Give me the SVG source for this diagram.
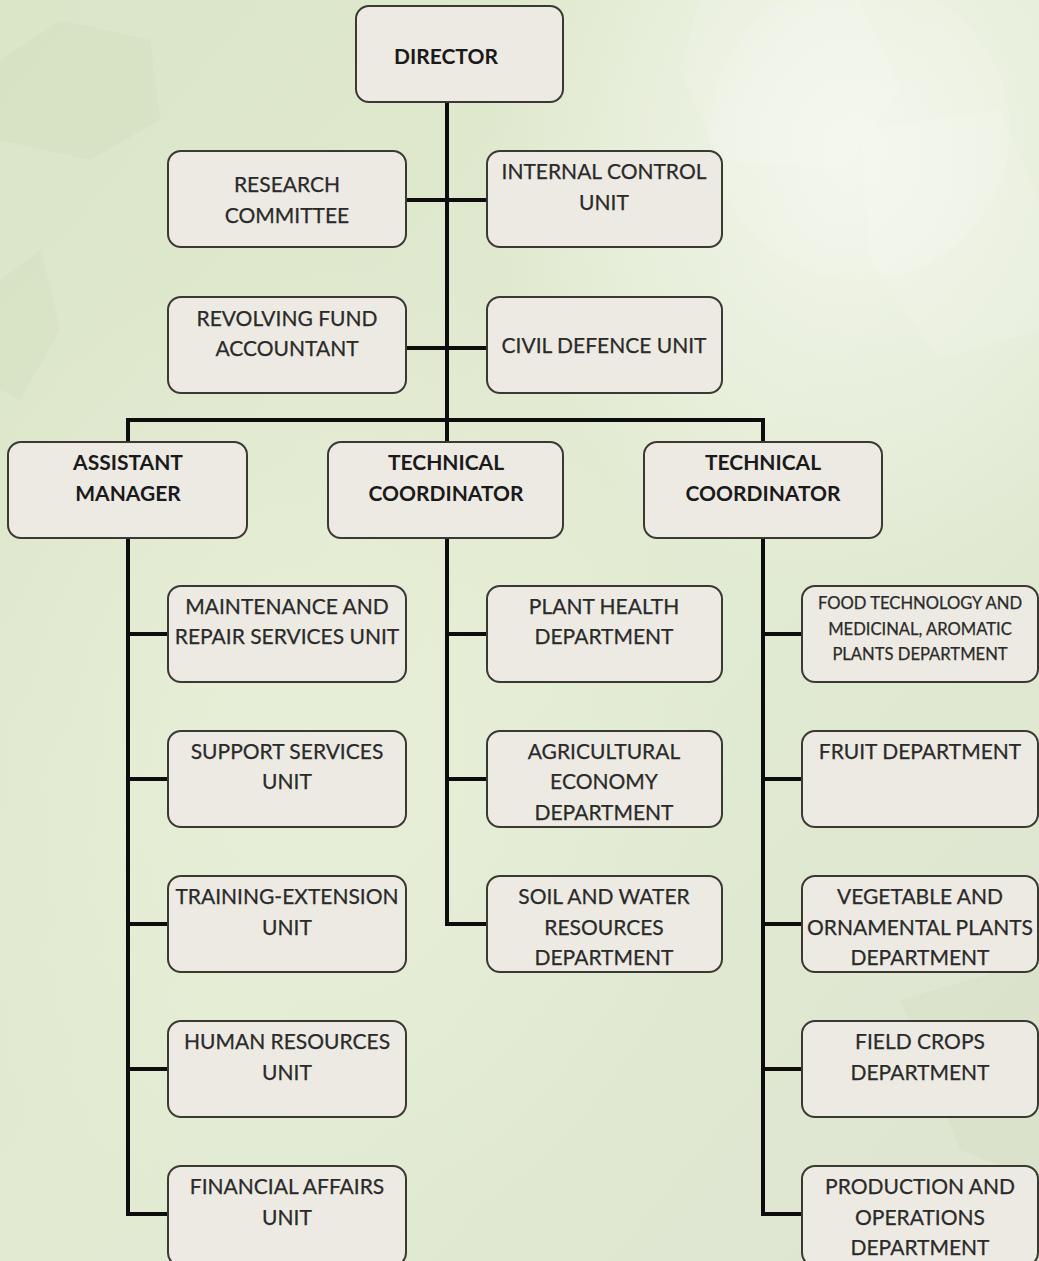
<svg xmlns="http://www.w3.org/2000/svg" width="1039" height="1261" viewBox="0 0 1039 1261">
<defs>
<style>
.node rect{fill:#edeae3;stroke:#3a3a32;stroke-width:2}
.t{font-family:Lato,"Liberation Sans",sans-serif;font-size:21px;text-anchor:middle;fill:#2a2a2a;stroke:#2a2a2a;stroke-width:0.25}
.b{font-weight:bold;fill:#1a1a1a;stroke:none}
.s{font-size:16.6px}
.conn path{stroke:#0d0d0d;stroke-width:4;fill:none;stroke-linejoin:miter}
.hex{fill:#ffffff;opacity:0.12}
.hexd{fill:#b9c9a0;opacity:0.1}
</style>
<linearGradient id="bg" x1="0" y1="0" x2="1" y2="1">
<stop offset="0" stop-color="#dbe5c8"/>
<stop offset="0.5" stop-color="#e2ebd2"/>
<stop offset="1" stop-color="#dde5d1"/>
</linearGradient>
<radialGradient id="glow" cx="0.82" cy="0.12" r="0.35">
<stop offset="0" stop-color="#f3f6ec" stop-opacity="0.95"/>
<stop offset="1" stop-color="#f3f6ec" stop-opacity="0"/>
</radialGradient>
<radialGradient id="glow2" cx="0.3" cy="0.6" r="0.4">
<stop offset="0" stop-color="#e9f0da" stop-opacity="0.8"/>
<stop offset="1" stop-color="#e9f0da" stop-opacity="0"/>
</radialGradient>
</defs>
<rect width="1039" height="1261" fill="url(#bg)"/>
<rect width="1039" height="1261" fill="url(#glow)"/>
<rect width="1039" height="1261" fill="url(#glow2)"/>
<g id="background-shapes">
<polygon class="hexd" points="0,60 60,20 150,40 160,120 90,160 0,140"/>
<polygon class="hexd" points="0,280 40,250 60,330 20,400 0,390"/>
<polygon class="hex" points="700,0 860,0 900,90 840,170 720,160 680,70"/>
<polygon class="hex" points="860,130 1000,110 1039,200 1039,330 940,360 870,260"/>
<polygon class="hexd" points="900,1000 1039,960 1039,1180 960,1150"/>
<circle cx="860" cy="130" r="150" fill="#ffffff" opacity="0.12"/>
</g>
<g class="conn" id="connectors">
<path d="M447,102 V442"/>
<path d="M406,200 H487"/>
<path d="M406,348 H487"/>
<path d="M128,442 V420 H763 V442"/>
<path d="M128,538 V1214 H168"/>
<path d="M128,634 H168 M128,779 H168 M128,924 H168 M128,1069 H168"/>
<path d="M447,538 V924 H487"/>
<path d="M447,634 H487 M447,779 H487"/>
<path d="M763,538 V1214 H802"/>
<path d="M763,634 H802 M763,779 H802 M763,924 H802 M763,1069 H802"/>
</g>
<g class="node" id="director"><rect x="356" y="6" width="207" height="96" rx="13"/><text class="t b" x="446" y="64">DIRECTOR</text></g>
<g class="node" id="research-committee"><rect x="168" y="151" width="238" height="96" rx="13"/><text class="t" x="287" y="192">RESEARCH</text><text class="t" x="287" y="223">COMMITTEE</text></g>
<g class="node" id="internal-control-unit"><rect x="487" y="151" width="235" height="96" rx="13"/><text class="t" x="604" y="179">INTERNAL CONTROL</text><text class="t" x="604" y="210">UNIT</text></g>
<g class="node" id="revolving-fund-accountant"><rect x="168" y="297" width="238" height="96" rx="13"/><text class="t" x="287" y="326">REVOLVING FUND</text><text class="t" x="287" y="356">ACCOUNTANT</text></g>
<g class="node" id="civil-defence-unit"><rect x="487" y="297" width="235" height="96" rx="13"/><text class="t" x="604" y="353">CIVIL DEFENCE UNIT</text></g>
<g class="node" id="assistant-manager"><rect x="8" y="442" width="239" height="96" rx="13"/><text class="t b" x="128" y="470">ASSISTANT</text><text class="t b" x="128" y="501">MANAGER</text></g>
<g class="node" id="technical-coordinator-1"><rect x="328" y="442" width="235" height="96" rx="13"/><text class="t b" x="446" y="470">TECHNICAL</text><text class="t b" x="446" y="501">COORDINATOR</text></g>
<g class="node" id="technical-coordinator-2"><rect x="644" y="442" width="238" height="96" rx="13"/><text class="t b" x="763" y="470">TECHNICAL</text><text class="t b" x="763" y="501">COORDINATOR</text></g>
<g class="node" id="maintenance"><rect x="168" y="586" width="238" height="96" rx="13"/><text class="t" x="287" y="614">MAINTENANCE AND</text><text class="t" x="287" y="644">REPAIR SERVICES UNIT</text></g>
<g class="node" id="support-services"><rect x="168" y="731" width="238" height="96" rx="13"/><text class="t" x="287" y="759">SUPPORT SERVICES</text><text class="t" x="287" y="789">UNIT</text></g>
<g class="node" id="training-extension"><rect x="168" y="876" width="238" height="96" rx="13"/><text class="t" x="287" y="904">TRAINING-EXTENSION</text><text class="t" x="287" y="935">UNIT</text></g>
<g class="node" id="human-resources"><rect x="168" y="1021" width="238" height="96" rx="13"/><text class="t" x="287" y="1049">HUMAN RESOURCES</text><text class="t" x="287" y="1080">UNIT</text></g>
<g class="node" id="financial-affairs"><rect x="168" y="1166" width="238" height="100" rx="13"/><text class="t" x="287" y="1194">FINANCIAL AFFAIRS</text><text class="t" x="287" y="1225">UNIT</text></g>
<g class="node" id="plant-health"><rect x="487" y="586" width="235" height="96" rx="13"/><text class="t" x="604" y="614">PLANT HEALTH</text><text class="t" x="604" y="644">DEPARTMENT</text></g>
<g class="node" id="agricultural-economy"><rect x="487" y="731" width="235" height="96" rx="13"/><text class="t" x="604" y="759">AGRICULTURAL</text><text class="t" x="604" y="789">ECONOMY</text><text class="t" x="604" y="820">DEPARTMENT</text></g>
<g class="node" id="soil-water"><rect x="487" y="876" width="235" height="96" rx="13"/><text class="t" x="604" y="904">SOIL AND WATER</text><text class="t" x="604" y="935">RESOURCES</text><text class="t" x="604" y="965">DEPARTMENT</text></g>
<g class="node" id="food-technology"><rect x="802" y="586" width="236" height="96" rx="13"/><text class="t s" x="920" y="609">FOOD TECHNOLOGY AND</text><text class="t s" x="920" y="635">MEDICINAL, AROMATIC</text><text class="t s" x="920" y="660">PLANTS DEPARTMENT</text></g>
<g class="node" id="fruit"><rect x="802" y="731" width="236" height="96" rx="13"/><text class="t" x="920" y="759">FRUIT DEPARTMENT</text></g>
<g class="node" id="vegetable"><rect x="802" y="876" width="236" height="96" rx="13"/><text class="t" x="920" y="904">VEGETABLE AND</text><text class="t" x="920" y="935">ORNAMENTAL PLANTS</text><text class="t" x="920" y="965">DEPARTMENT</text></g>
<g class="node" id="field-crops"><rect x="802" y="1021" width="236" height="96" rx="13"/><text class="t" x="920" y="1049">FIELD CROPS</text><text class="t" x="920" y="1080">DEPARTMENT</text></g>
<g class="node" id="production-operations"><rect x="802" y="1166" width="236" height="100" rx="13"/><text class="t" x="920" y="1194">PRODUCTION AND</text><text class="t" x="920" y="1225">OPERATIONS</text><text class="t" x="920" y="1255">DEPARTMENT</text></g>
</svg>
